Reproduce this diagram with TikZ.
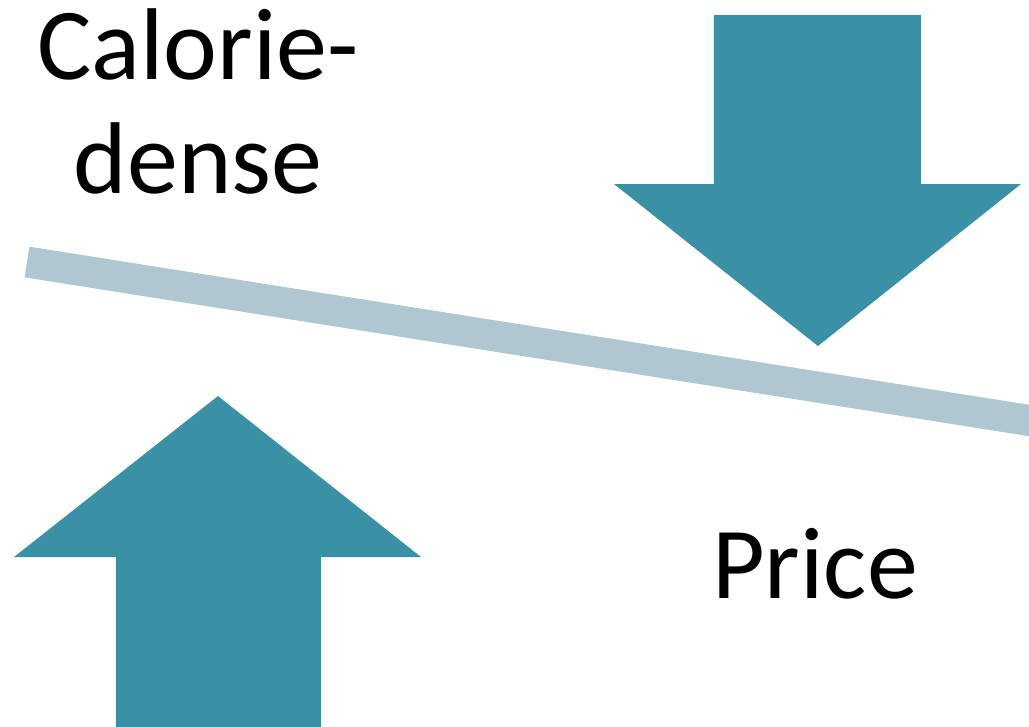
\documentclass[tikz,border=0pt]{standalone}
\usepackage{fontspec}
\setmainfont{Carlito}
\usepackage{tikz}

\definecolor{arrowteal}{RGB}{58,145,166}
\definecolor{beamgrey}{RGB}{174,199,208}

\begin{document}
\begin{tikzpicture}[x=0.01cm,y=-0.01cm]
		\tikzstyle{big-arrow}=[fill=arrowteal,draw=none]
		\tikzstyle{beam}=[draw=beamgrey,line width=0.31cm]
		\tikzstyle{label}=[inner sep=0pt,align=center,font=\fontsize{29}{32.2}\selectfont]
		\clip (0,0) rectangle (1029,726);
		\useasboundingbox (0,0) rectangle (1029,726);
		% seesaw beam
		\coordinate (beam-left) at (27,262);
		\coordinate (beam-right) at (1045,423);
		\draw [beam] (beam-left) -- (beam-right);
		% arrow pushing up
		\fill [big-arrow] (116,740) -- (116,557) -- (14,557) -- (218,396) -- (421,557) -- (321,557) -- (321,740) -- cycle;
		% arrow pushing down
		\fill [big-arrow] (714,15) -- (921,15) -- (921,184) -- (1021,184) -- (818,346) -- (614,184) -- (714,184) -- cycle;
		% labels (base = last line)
		\node [label,anchor=base] at (198,193) (calorie) {Calorie-\\dense};
		\node [label,anchor=base] at (815,598) (price) {Price};
	\end{tikzpicture}
\end{document}
